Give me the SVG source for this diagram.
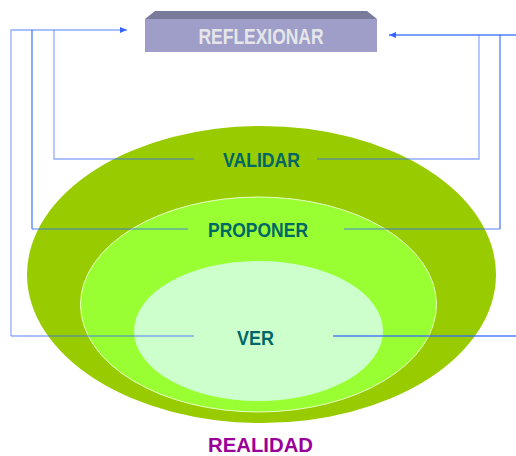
<svg xmlns="http://www.w3.org/2000/svg" width="516" height="456" viewBox="0 0 516 456">
<style>
.lbl{font-family:"Liberation Sans",Arial,sans-serif;font-weight:bold;font-size:21px;text-anchor:middle;fill:#006666}
.ln{fill:none;stroke:#3366ff;stroke-width:1.3}
.lt{stroke-opacity:0.55}
.dk{stroke-opacity:0.85}
</style>
<defs>
<marker id="ah" markerWidth="8" markerHeight="8" refX="7" refY="4" orient="auto" markerUnits="userSpaceOnUse">
<path d="M0,1 L7,4 L0,7 Z" fill="#3366ff"/>
</marker>
</defs>
<g id="ellipses">
<ellipse id="outer" cx="261.5" cy="274.5" rx="234.5" ry="148.5" fill="#99cc00"/>
<ellipse id="middle" cx="258.5" cy="304.5" rx="178" ry="107.5" fill="#99ff33" stroke="#e8ffc8" stroke-width="1"/>
<ellipse id="inner" cx="258.5" cy="331" rx="124.5" ry="70" fill="#ccffcc"/>
</g>
<g id="reflexionar">
<polygon points="145,19 155,11 367,11 377,19" fill="#7a7a9c"/>
<rect x="145" y="19" width="232" height="33" fill="#9e9ec8"/>
<text x="261" y="44" class="lbl" style="fill:#e6e6ea;font-size:22px" textLength="125" lengthAdjust="spacingAndGlyphs">REFLEXIONAR</text>
</g>
<g id="connectors">
<path class="ln lt" d="M11,336 L11,30 L127,30" marker-end="url(#ah)"/>
<path class="ln lt" d="M11,336 L194,336"/>
<path class="ln dk" d="M32,30 L32,229"/>
<path class="ln lt" d="M32,229 L188,229"/>
<path class="ln lt" d="M54,30 L54,159 L194,159"/>
<path class="ln dk" d="M516,35 L389,35" marker-end="url(#ah)"/>
<path class="ln lt" d="M479,35 L479,159 L317,159"/>
<path class="ln dk" d="M500,35 L500,229"/>
<path class="ln lt" d="M500,229 L344,229"/>
<path class="ln dk" d="M516,336 L333,336"/>
</g>
<g id="validar"><text x="261.5" y="166.5" class="lbl" textLength="77" lengthAdjust="spacingAndGlyphs">VALIDAR</text></g>
<g id="proponer"><text x="258" y="236.5" class="lbl" textLength="100" lengthAdjust="spacingAndGlyphs">PROPONER</text></g>
<g id="ver"><text x="255.5" y="344.5" class="lbl" textLength="37" lengthAdjust="spacingAndGlyphs">VER</text></g>
<g id="realidad"><text x="260.5" y="451.5" class="lbl" style="fill:#990099" textLength="105" lengthAdjust="spacingAndGlyphs">REALIDAD</text></g>
</svg>
